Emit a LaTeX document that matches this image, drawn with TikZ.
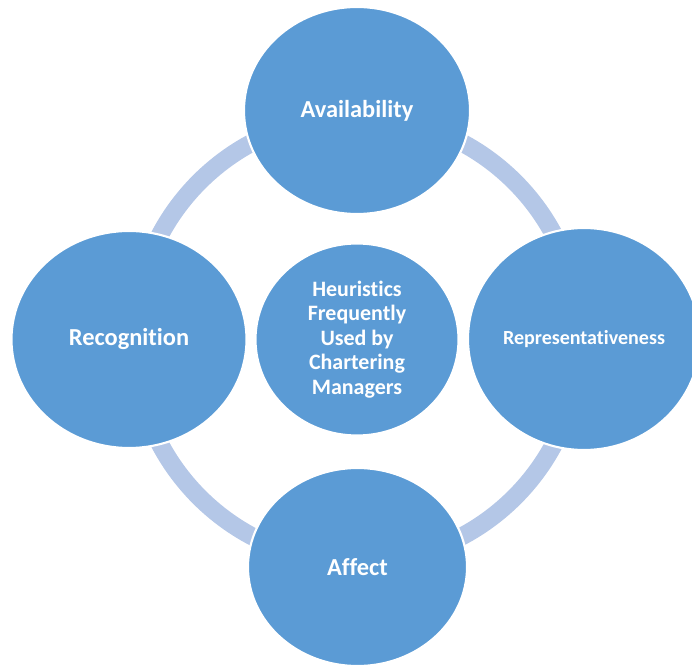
\documentclass[tikz,border=0pt]{standalone}
\usepackage{fontspec}
\setmainfont{Carlito}[Ligatures={NoCommon}]
\usetikzlibrary{shapes.geometric}
\definecolor{bubbleblue}{HTML}{5B9BD5}
\definecolor{ringblue}{HTML}{B4C7E7}
\tikzset{
  bubble/.style={ellipse,fill=bubbleblue,draw=white,line width=1.2pt,inner sep=0pt,
    text=white,align=center,font=\bfseries\fontsize{13.9}{16}\selectfont},
}
\begin{document}
\begin{tikzpicture}
        \useasboundingbox (0,0) rectangle (13.84,13.28);

        \coordinate (mid) at (7.14,6.49);
        \draw[ringblue,line width=0.36cm] (mid) circle (4.46);% ring behind the bubbles

        \node[bubble,minimum width=4.06cm,minimum height=3.84cm,
          font=\bfseries\fontsize{12.5}{14}\selectfont] (heur) at (mid)
          {Heuristics\\Frequently\\Used by\\Chartering\\Managers};% centre bubble

        \node[bubble,minimum width=4.52cm,minimum height=4.14cm] (avail) at (7.14,11.07) {Availability};% top
        \node[bubble,minimum width=4.70cm,minimum height=4.34cm] (recog) at (2.58,6.49) {Recognition};% left
        \node[bubble,minimum width=4.64cm,minimum height=4.44cm,
          font=\bfseries\fontsize{11.4}{13}\selectfont] (repr) at (11.68,6.50) {Representativeness};% right
        \node[bubble,minimum width=4.38cm,minimum height=3.96cm] (affect) at (7.15,1.94) {Affect};% bottom

    \end{tikzpicture}
\end{document}
